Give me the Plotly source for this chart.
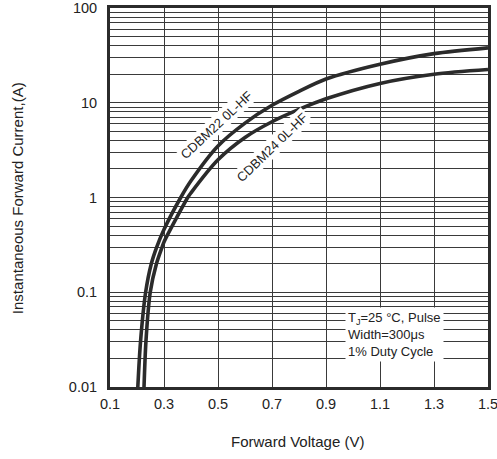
import math
import plotly.graph_objects as go

# Forward voltage (V) and instantaneous forward current (A)
v_220 = [0.203, 0.213, 0.232, 0.253, 0.273, 0.30, 0.362, 0.40, 0.50, 0.60, 0.70, 0.80, 0.90, 1.10, 1.30, 1.50]
i_220 = [0.01, 0.03, 0.1, 0.2, 0.3, 0.46, 1.0, 1.5, 3.5, 6.1, 9.4, 13.2, 17.8, 25.5, 33.0, 38.0]

v_240 = [0.226, 0.233, 0.249, 0.272, 0.293, 0.30, 0.388, 0.40, 0.50, 0.60, 0.70, 0.80, 0.90, 1.10, 1.30, 1.50]
i_240 = [0.01, 0.03, 0.1, 0.2, 0.3, 0.34, 1.0, 1.12, 2.5, 4.3, 6.3, 8.5, 11.0, 16.0, 20.0, 22.4]

x_ticks = [0.1, 0.3, 0.5, 0.7, 0.9, 1.1, 1.3, 1.5]
x_ticktext = ["0.1", "0.3", "0.5", "0.7", "0.9", "1.1", "1.3", "1.5"]
y_ticks = [0.01, 0.1, 1, 10, 100]
y_ticktext = ["0.01", "0.1", "1", "10", "100"]

line_color = "#2b2b2b"
grid_color = "#3a3a3a"
text_color = "#222222"
font_family = "Liberation Sans, Arial, sans-serif"

fig = go.Figure()
fig.add_trace(go.Scatter(x=v_220, y=i_220, mode="lines",
                         line=dict(color=line_color, width=3.6, shape="spline", smoothing=0.8),
                         showlegend=False, hoverinfo="skip"))
fig.add_trace(go.Scatter(x=v_240, y=i_240, mode="lines",
                         line=dict(color=line_color, width=3.6, shape="spline", smoothing=0.8),
                         showlegend=False, hoverinfo="skip"))

# curve labels (log axis: annotation y in log10 units)
fig.add_annotation(x=0.496, y=math.log10(5.9), xref="x", yref="y", text="CDBM22 0L-HF", showarrow=False,
                   textangle=-43, font=dict(family=font_family, size=13, color=text_color),
                   bgcolor="white", borderpad=1)
fig.add_annotation(x=0.70, y=math.log10(3.37), xref="x", yref="y", text="CDBM24 0L-HF", showarrow=False,
                   textangle=-44, font=dict(family=font_family, size=13, color=text_color),
                   bgcolor="white", borderpad=1)
fig.add_annotation(x=0.97, y=math.log10(0.036), xref="x", yref="y", xanchor="left", yanchor="middle",
                   align="left", text="T<sub>J</sub>=25 °C, Pulse<br>Width=300μs<br>1% Duty Cycle",
                   showarrow=False, font=dict(family=font_family, size=13, color=text_color),
                   bgcolor="white", borderpad=2)

# axis titles
fig.add_annotation(x=-0.243, y=0.4987, xref="paper", yref="paper", text="Instantaneous Forward Current,(A)",
                   textangle=-90, showarrow=False, xanchor="center", yanchor="middle",
                   font=dict(family=font_family, size=15, color=text_color))
fig.add_annotation(x=0.497, y=-0.145, xref="paper", yref="paper", text="Forward Voltage (V)",
                   showarrow=False, xanchor="center", yanchor="middle",
                   font=dict(family=font_family, size=15, color=text_color))

fig.update_layout(
    width=497, height=459,
    margin=dict(l=110, r=9, t=8, b=72, autoexpand=False),
    paper_bgcolor="white", plot_bgcolor="white",
    font=dict(family=font_family, size=12, color=text_color),
    xaxis=dict(range=[0.1, 1.5], tickvals=x_ticks, ticktext=x_ticktext, showgrid=True, gridcolor=grid_color,
               gridwidth=1, zeroline=False, showline=True, linecolor=line_color, linewidth=3, mirror=True,
               ticks="", tickfont=dict(size=14.5), automargin=False, ticklabelstandoff=2,
               ticklabeloverflow="allow"),
    yaxis=dict(type="log", range=[-2, 2], tickvals=y_ticks, ticktext=y_ticktext, showgrid=True,
               gridcolor=grid_color, gridwidth=1, zeroline=False, showline=True, linecolor=line_color,
               linewidth=3, mirror=True, ticks="", tickfont=dict(size=14.5), automargin=False,
               ticklabelstandoff=7, ticklabeloverflow="allow",
               minor=dict(dtick="D1", showgrid=True, gridcolor=grid_color, gridwidth=1, ticks="")),
)

fig.write_html("out.html", config={"displayModeBar": False},
               post_script="document.body.style.margin='0';")
